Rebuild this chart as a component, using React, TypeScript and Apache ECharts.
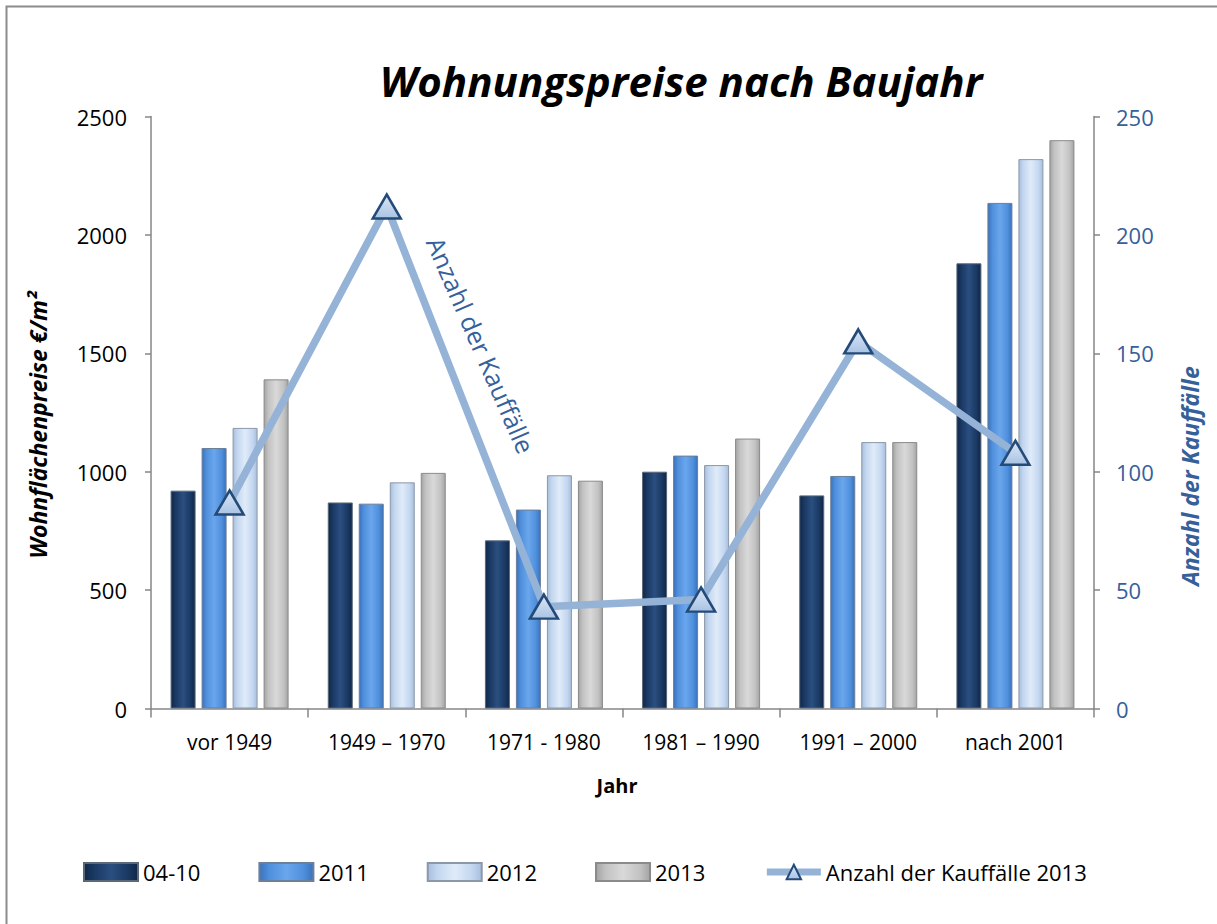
import React, { useEffect, useRef } from "react";
import * as echarts from "echarts";

const categories = ["vor 1949", "1949 – 1970", "1971 - 1980", "1981 – 1990", "1991 – 2000", "nach 2001"];
const series0410 = [920, 870, 710, 1000, 900, 1880];
const series2011 = [1100, 865, 840, 1068, 982, 2135];
const series2012 = [1185, 955, 985, 1028, 1125, 2320];
const series2013 = [1390, 995, 962, 1140, 1125, 2400];
const kauffaelle2013 = [87, 212, 43, 46, 155, 108];

const FONT = "'Open Sans', 'Noto Sans', sans-serif";
const BLUE_TEXT = "#36609a";

function hGrad(edge: string, mid: string, light: string) {
  return new echarts.graphic.LinearGradient(0, 0, 1, 0, [
    { offset: 0, color: edge },
    { offset: 0.18, color: mid },
    { offset: 0.5, color: light },
    { offset: 0.82, color: mid },
    { offset: 1, color: edge },
  ]);
}

export default function App() {
  const ref = useRef<HTMLDivElement>(null);
  useEffect(() => {
    if (!ref.current) return;
    const chart = echarts.init(ref.current, undefined, { renderer: "svg" });
    const barBase = {
      type: "bar" as const,
      barWidth: 25,
      barGap: "24%",
      yAxisIndex: 0,
    };
    chart.setOption({
      animation: false,
      backgroundColor: "#ffffff",
      grid: { left: 151, right: 123, top: 116.5, bottom: 215.5 },
      legend: {
        left: 78,
        top: 856,
        itemWidth: 54,
        itemHeight: 18,
        itemGap: 58,
        textStyle: { fontFamily: FONT, fontSize: 22, color: "#000" },
        data: [
          { name: "04-10", icon: "rect" },
          { name: "2011", icon: "rect" },
          { name: "2012", icon: "rect" },
          { name: "2013", icon: "rect" },
          { name: "Anzahl der Kauffälle 2013", lineStyle: { width: 7, color: "#95b3d7" } },
        ],
      },
      xAxis: {
        type: "category",
        data: categories,
        axisLine: { lineStyle: { color: "#868686", width: 1.5 } },
        axisTick: { show: true, length: 9, lineStyle: { color: "#868686", width: 1.5 } },
        axisLabel: { fontFamily: FONT, fontSize: 21, color: "#000", margin: 23, interval: 0 },
      },
      yAxis: [
        {
          type: "value",
          min: 0,
          max: 2500,
          interval: 500,
          position: "left",
          splitLine: { show: false },
          axisLine: { show: true, lineStyle: { color: "#868686", width: 1.5 } },
          axisTick: { show: true, length: 6, lineStyle: { color: "#868686", width: 1.5 } },
          axisLabel: {
            fontFamily: FONT,
            fontSize: 22,
            color: "#000",
            margin: 24,
            formatter: (v: number) => String(v),
          },
        },
        {
          type: "value",
          min: 0,
          max: 250,
          interval: 50,
          position: "right",
          splitLine: { show: false },
          axisLine: { show: true, lineStyle: { color: "#868686", width: 1.5 } },
          axisTick: { show: true, length: 6, lineStyle: { color: "#868686", width: 1.5 } },
          axisLabel: {
            fontFamily: FONT,
            fontSize: 22,
            color: BLUE_TEXT,
            margin: 22,
            formatter: (v: number) => String(v),
          },
        },
      ],
      series: [
        {
          ...barBase,
          name: "04-10",
          data: series0410,
          itemStyle: { color: hGrad("#0f2748", "#1a3862", "#2a4f80"), borderColor: "#5a6878", borderWidth: 1 },
        },
        {
          ...barBase,
          name: "2011",
          data: series2011,
          itemStyle: { color: hGrad("#3a72bd", "#4f8fdc", "#6aa6ec"), borderColor: "#6b7f99", borderWidth: 1 },
        },
        {
          ...barBase,
          name: "2012",
          data: series2012,
          itemStyle: { color: hGrad("#a7bedc", "#c3d7f0", "#e0ebf9"), borderColor: "#8c98a8", borderWidth: 1 },
        },
        {
          ...barBase,
          name: "2013",
          data: series2013,
          itemStyle: { color: hGrad("#a4a4a4", "#c2c2c2", "#d9d9d9"), borderColor: "#8a8a8a", borderWidth: 1 },
        },
        {
          type: "line",
          name: "Anzahl der Kauffälle 2013",
          yAxisIndex: 1,
          data: kauffaelle2013,
          z: 5,
          lineStyle: { color: "#95b3d7", width: 7.5 },
          symbol: "triangle",
          symbolSize: [28, 24],
          itemStyle: {
            color: new echarts.graphic.LinearGradient(0, 0, 0, 1, [
              { offset: 0, color: "#dbe7f6" },
              { offset: 1, color: "#a9c3e4" },
            ]),
            borderColor: "#244a78",
            borderWidth: 2.5,
          },
        },
      ],
      graphic: [
        {
          type: "rect",
          shape: { x: 6.5, y: 6.5, width: 1400, height: 1100 },
          style: { fill: "none", stroke: "#8c8c8c", lineWidth: 2 },
          silent: true,
        },
        {
          type: "text",
          x: 681,
          y: 80,
          style: {
            text: "Wohnungspreise nach Baujahr",
            font: `italic bold 42px ${FONT}`,
            fill: "#000",
            textAlign: "center",
            textVerticalAlign: "middle",
          },
        },
        {
          type: "text",
          x: 38,
          y: 425,
          rotation: Math.PI / 2,
          style: {
            text: "Wohnflächenpreise €/m²",
            font: `italic bold 23px ${FONT}`,
            fill: "#000",
            textAlign: "center",
            textVerticalAlign: "middle",
          },
        },
        {
          type: "text",
          x: 1190,
          y: 476,
          rotation: Math.PI / 2,
          style: {
            text: "Anzahl der Kauffälle",
            font: `italic bold 23px ${FONT}`,
            fill: BLUE_TEXT,
            textAlign: "center",
            textVerticalAlign: "middle",
          },
        },
        {
          type: "text",
          x: 617,
          y: 785,
          style: {
            text: "Jahr",
            font: `bold 20px ${FONT}`,
            fill: "#000",
            textAlign: "center",
            textVerticalAlign: "middle",
          },
        },
        {
          type: "text",
          x: 481,
          y: 345,
          rotation: -1.16,
          style: {
            text: "Anzahl der Kauffälle",
            font: `25px ${FONT}`,
            fill: BLUE_TEXT,
            textAlign: "center",
            textVerticalAlign: "middle",
          },
        },
      ],
    });
    return () => chart.dispose();
  }, []);
  return (
    <div
      ref={ref}
      style={{ position: "absolute", left: 0, top: 0, width: 1217, height: 924 }}
    />
  );
}
